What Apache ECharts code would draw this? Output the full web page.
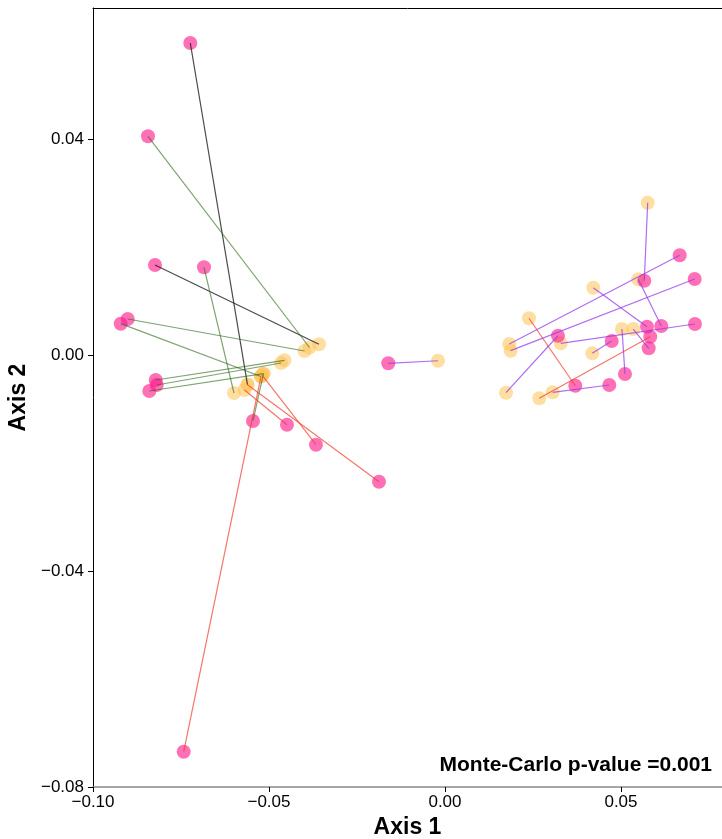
<!DOCTYPE html>
<html>
<head>
<meta charset="utf-8">
<script src="https://cdn.jsdelivr.net/npm/echarts@6/dist/echarts.min.js"></script>
<style>
html,body{margin:0;padding:0;background:#fff;}
#chart{width:722px;height:839px;}
</style>
</head>
<body>
<div id="chart"></div>
<script>
// paired samples: pink (time A) and yellow (time B), joined by a segment coloured by group
const pinkX   = [-0.07236,-0.08239,-0.08438,-0.06847,-0.09014,-0.09213,-0.08219,-0.08190,-0.08401,-0.05455,-0.07423,-0.04489,-0.03665,-0.01875,
                 -0.01611,
                  0.05662, 0.06668, 0.07094, 0.06145, 0.05739, 0.03702, 0.07102, 0.03210, 0.04736, 0.05114, 0.05787, 0.05832, 0.04668];
const pinkY   = [ 0.05778, 0.01667, 0.04050, 0.01624, 0.00667, 0.00580,-0.00463,-0.00556,-0.00667,-0.01222,-0.07346,-0.01291,-0.01661,-0.02346,
                 -0.00154,
                  0.01376, 0.01846, 0.01407, 0.00537, 0.00524,-0.00569, 0.00574, 0.00357, 0.00259,-0.00352, 0.00124, 0.00339,-0.00556];
const yellowX = [-0.05611,-0.03580,-0.03849,-0.05994,-0.03991,-0.05227,-0.04560,-0.04659,-0.05156,-0.05156,-0.05227,-0.05696,-0.05200,-0.05611,
                 -0.00199,
                  0.05759, 0.01827, 0.01866, 0.05491, 0.04213, 0.02386, 0.03287, 0.01733, 0.04185, 0.05028, 0.05349, 0.02679, 0.03060];
const yellowY = [-0.00550, 0.00198, 0.00139,-0.00704, 0.00074,-0.00398,-0.00098,-0.00148,-0.00346,-0.00346,-0.00398,-0.00648,-0.00370,-0.00550,
                 -0.00106,
                  0.02820, 0.00204, 0.00080, 0.01402, 0.01246, 0.00680, 0.00217,-0.00698, 0.00031, 0.00481, 0.00481,-0.00802,-0.00691];
const groups  = ['black','black','green','green','green','green','green','green','green','green','red','red','red','red',
                 'purple',
                 'purple','purple','purple','purple','purple','red','purple','purple','purple','purple','purple','red','purple'];
const xTicks = [-0.10, -0.05, 0.00, 0.05];
const yTicks = [-0.08, -0.04, 0.00, 0.04];
const annotation = 'Monte-Carlo p-value =0.001';

const groupColors = {
  black: 'rgba(30,30,30,0.8)',
  green: 'rgba(40,100,20,0.6)',
  red: 'rgba(240,60,40,0.7)',
  purple: 'rgba(150,60,235,0.75)'
};
const fmt = v => (v < 0 ? '\u2212' : '') + Math.abs(v).toFixed(2);
const isTick = (arr, v) => arr.some(t => Math.abs(t - v) < 1e-9);

const pinkData = pinkX.map((x, i) => [x, pinkY[i]]);
const yellowData = yellowX.map((x, i) => [x, yellowY[i]]);
const segData = pinkX.map((x, i) => ({
  coords: [[x, pinkY[i]], [yellowX[i], yellowY[i]]],
  lineStyle: { color: groupColors[groups[i]] }
}));

const chart = echarts.init(document.getElementById('chart'), null, { renderer: 'canvas' });
chart.setOption({
  animation: false,
  backgroundColor: '#fff',
  grid: { left: 93, right: 0, top: 8, bottom: 52, containLabel: false, outerBoundsMode: 'none' },
  xAxis: [{
    type: 'value', min: -0.10, max: 0.0787, interval: 0.05,
    name: 'Axis 1', nameLocation: 'middle', nameGap: 19,
    nameTextStyle: { fontFamily: 'Liberation Sans', fontWeight: 'bold', fontSize: 23, color: '#000' },
    axisLine: { show: true, onZero: false, lineStyle: { color: '#888', width: 1.5 } },
    axisTick: { show: true, length: 5, lineStyle: { color: '#000' } },
    axisLabel: { margin: 7, fontFamily: 'Liberation Sans', fontSize: 17, color: '#000',
      formatter: v => isTick(xTicks, v) ? fmt(v) : '' },
    splitLine: { show: false }
  }, {
    type: 'value', position: 'top', min: -0.10, max: 0.0787,
    axisLine: { show: true, onZero: false, lineStyle: { color: '#000', width: 1 } },
    axisTick: { show: false }, axisLabel: { show: false }, splitLine: { show: false }
  }],
  yAxis: {
    type: 'value', min: -0.08, max: 0.06426, interval: 0.04,
    name: 'Axis 2', nameLocation: 'middle', nameGap: 42, nameRotate: 90,
    nameTextStyle: { fontFamily: 'Liberation Sans', fontWeight: 'bold', fontSize: 23, color: '#000' },
    axisLine: { show: true, onZero: false, lineStyle: { color: '#000', width: 1 } },
    axisTick: { show: true, length: 5, lineStyle: { color: '#000' },
      customValues: yTicks },
    axisLabel: { margin: 9, fontFamily: 'Liberation Sans', fontSize: 17, color: '#000',
      formatter: v => isTick(yTicks, v) ? fmt(v) : '' },
    splitLine: { show: false }
  },
  series: [
    { type: 'scatter', name: 'B', data: yellowData, symbolSize: 14, z: 2,
      itemStyle: { color: 'rgba(255,196,90,0.7)' } },
    { type: 'scatter', name: 'A', data: pinkData, symbolSize: 14, z: 3,
      itemStyle: { color: 'rgba(255,25,140,0.78)' } },
    { type: 'lines', coordinateSystem: 'cartesian2d', data: segData, z: 4,
      lineStyle: { width: 1.2, opacity: 1 } }
  ],
  graphic: [{
    type: 'text', right: 10, bottom: 63,
    style: { text: annotation, fontFamily: 'Liberation Sans', fontWeight: 'bold', fontSize: 21, fill: '#000' }
  }]
});
</script>
</body>
</html>
